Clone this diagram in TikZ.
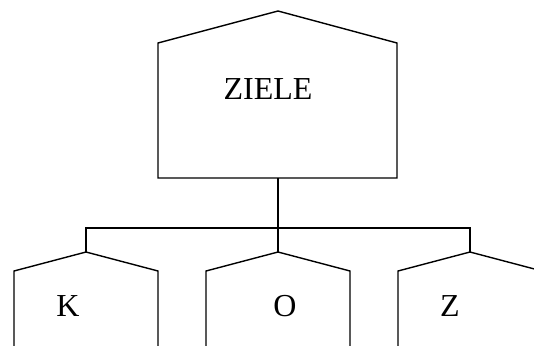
\documentclass[tikz,border=0pt]{standalone}
\usepackage{fontspec}
\setmainfont{Liberation Serif}
\begin{document}
\begin{tikzpicture}[x=1pt,y=-1pt,
  house/.style={draw=black,line width=1.4pt,line join=miter},
  conn/.style={draw=black,line width=1.4pt},
  lbl/.style={font=\fontsize{32}{38}\selectfont,inner sep=0pt,anchor=center}]
\useasboundingbox (0,0) rectangle (534,345);
\clip (0,0) rectangle (534,345);
% main house
\draw[house] (158,43) -- (278,11) -- (397,43) -- (397,178) -- (158,178) -- cycle;
\node[lbl] (ziele) at (268,89) {ZIELE};
\coordinate (zb) at (278,178);
% small houses
\foreach \c/\n in {86/k,278/o,470/z}{
  \draw[house] (\c-72,362) -- (\c-72,271) -- (\c,252) -- (\c+72,271) -- (\c+72,362);
  \coordinate (\n top) at (\c,252);
  \coordinate (\n bar) at (\c,228);
}
\node[lbl] (K) at (68,306) {K};
\node[lbl] (O) at (285,306) {O};
\node[lbl] (Z) at (450,306) {Z};
% connectors
\draw[conn] (zb) -- (obar);
\draw[conn] (ktop) -- (kbar) -- (zbar) -- (ztop);
\draw[conn] (obar) -- (otop);
\end{tikzpicture}
\end{document}
